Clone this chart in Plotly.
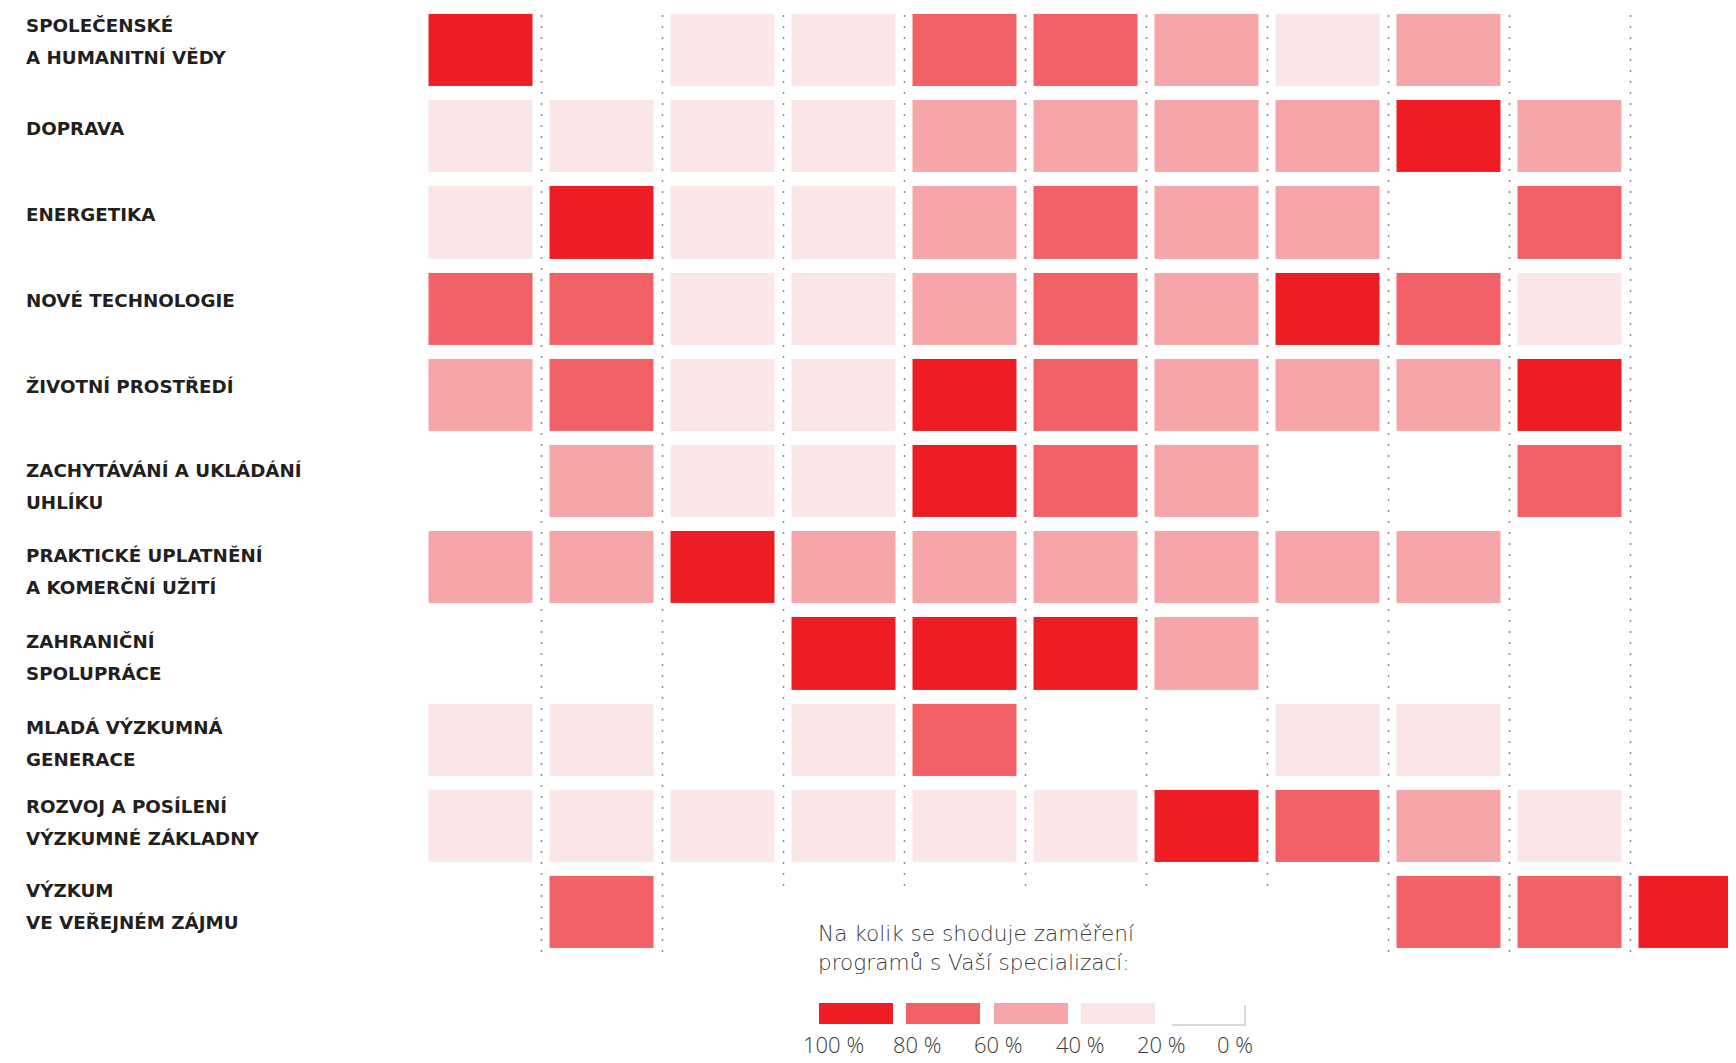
import plotly.graph_objects as go

# ---------------- data ----------------
row_labels = [
    ["SPOLEČENSKÉ", "A HUMANITNÍ VĚDY"],
    ["DOPRAVA"],
    ["ENERGETIKA"],
    ["NOVÉ TECHNOLOGIE"],
    ["ŽIVOTNÍ PROSTŘEDÍ"],
    ["ZACHYTÁVÁNÍ A UKLÁDÁNÍ", "UHLÍKU"],
    ["PRAKTICKÉ UPLATNĚNÍ", "A KOMERČNÍ UŽITÍ"],
    ["ZAHRANIČNÍ", "SPOLUPRÁCE"],
    ["MLADÁ VÝZKUMNÁ", "GENERACE"],
    ["ROZVOJ A POSÍLENÍ", "VÝZKUMNÉ ZÁKLADNY"],
    ["VÝZKUM", "VE VEŘEJNÉM ZÁJMU"],
]
programs = list(range(1, 12))  # 11 programme columns

# match in % (0 = no match)
shoda = [
    [100, 0, 40, 40, 80, 80, 60, 40, 60, 0, 0],
    [40, 40, 40, 40, 60, 60, 60, 60, 100, 60, 0],
    [40, 100, 40, 40, 60, 80, 60, 60, 0, 80, 0],
    [80, 80, 40, 40, 60, 80, 60, 100, 80, 40, 0],
    [60, 80, 40, 40, 100, 80, 60, 60, 60, 100, 0],
    [0, 60, 40, 40, 100, 80, 60, 0, 0, 80, 0],
    [60, 60, 100, 60, 60, 60, 60, 60, 60, 0, 0],
    [0, 0, 0, 100, 100, 100, 60, 0, 0, 0, 0],
    [40, 40, 0, 40, 80, 0, 0, 40, 40, 0, 0],
    [40, 40, 40, 40, 40, 40, 100, 80, 60, 40, 0],
    [0, 80, 0, 0, 0, 0, 0, 0, 80, 80, 100],
]

legend_title = ["Na kolik se shoduje zaměření", "programů s Vaší specializací:"]
legend_levels = [100, 80, 60, 40, 0]
legend_ticks = ["100 %", "80 %", "60 %", "40 %", "20 %", "0 %"]

level_colors = {100: "#EE1D23", 80: "#F26166", 60: "#F6A6A8", 40: "#FBE6E7", 0: "#FFFFFF"}

# ---------------- geometry helpers (screen pixels -> coords) ----------------
OFF = 8                      # page body margin
W, H = 1760, 1055            # figure size (last column runs off the right edge)
X0, DX = 481, 121            # screen x of first column centre, column pitch
Y0, DY = 50, 86.2            # screen y of first row centre, row pitch


def xd(px):
    return (px - X0) / DX


def yd(py):
    return (py - Y0) / DY


def xp(px):
    return (px - OFF) / W


def yp(py):
    return 1 - (py - OFF) / H


n_rows = len(row_labels)
n_cols = len(programs)
z = [[(v if v > 0 else None) for v in row] for row in shoda]

colorscale = [
    [0.0, level_colors[40]], [0.25, level_colors[40]],
    [0.25, level_colors[60]], [0.5, level_colors[60]],
    [0.5, level_colors[80]], [0.75, level_colors[80]],
    [0.75, level_colors[100]], [1.0, level_colors[100]],
]

fig = go.Figure()
fig.add_trace(go.Heatmap(
    z=z,
    x=list(range(n_cols)),
    y=list(range(n_rows)),
    zmin=30, zmax=110,
    colorscale=colorscale,
    showscale=False,
    xgap=17, ygap=14,
    hoverinfo="skip",
))

shapes = []
# dotted separators between columns
sep_bottoms = [956, 956, 891, 891, 891, 891, 891, 958, 958, 958]
for k in range(n_cols - 1):
    shapes.append(dict(
        type="line", xref="x", yref="y",
        x0=k + 0.5, x1=k + 0.5, y0=yd(4), y1=yd(sep_bottoms[k]),
        line=dict(color="#8a8a8a", width=1.5, dash="2px,9px"),
        layer="below",
    ))

annotations = []
label_font = dict(family="DejaVu Sans, sans-serif", size=18.3, color="#231F20", weight=700)
first_offsets = [-24.5, -8, -8, -8, -8, -10.5, -12, -12, -12, -19, -22]
for i, lines in enumerate(row_labels):
    for li, t in enumerate(lines):
        annotations.append(dict(
            text=t, x=xp(24), xref="paper", xanchor="left",
            y=i, yref="y", yanchor="middle",
            yshift=-(first_offsets[i] + 32 * li),
            showarrow=False, font=label_font, align="left",
        ))

# legend title
leg_font = dict(family="DejaVu Sans, sans-serif", size=21.6, color="#3a3a3a", weight=200)
for li, t in enumerate(legend_title):
    annotations.append(dict(
        text=t, x=xp(816), xref="paper", xanchor="left",
        y=yp(933 + 29 * li), yref="paper", yanchor="middle",
        showarrow=False, font=leg_font,
    ))

# legend swatches
sw_x = [819, 906, 994, 1081, 1170]
sw_w = 74
sw_top, sw_bot = 1003, 1024
for lev, x0 in zip(legend_levels, sw_x):
    if lev == 0:
        shapes.append(dict(type="rect", xref="paper", yref="paper",
                           x0=xp(x0 + 2), x1=xp(x0 + sw_w + 2), y0=yp(sw_top + 2), y1=yp(sw_bot + 2),
                           fillcolor="#d8d8d8", line=dict(width=0)))
    shapes.append(dict(type="rect", xref="paper", yref="paper",
                       x0=xp(x0), x1=xp(x0 + sw_w), y0=yp(sw_top), y1=yp(sw_bot),
                       fillcolor=level_colors[lev], line=dict(width=0)))

tick_x = [833, 917, 998, 1080, 1161, 1235]
tick_font = dict(family="Open Sans, sans-serif", size=22, color="#3a3a3a", weight=300)
for t, x in zip(legend_ticks, tick_x):
    annotations.append(dict(
        text=t, x=xp(x), xref="paper", xanchor="center",
        y=yp(1044), yref="paper", yanchor="middle",
        showarrow=False, font=tick_font,
    ))

fig.update_layout(
    width=W, height=H,
    margin=dict(l=0, r=0, t=0, b=0),
    paper_bgcolor="white", plot_bgcolor="white",
    xaxis=dict(range=[xd(OFF), xd(OFF + W)], visible=False, fixedrange=True),
    yaxis=dict(range=[yd(OFF + H), yd(OFF)], visible=False, fixedrange=True),
    shapes=shapes,
    annotations=annotations,
    showlegend=False,
)

fig.write_html("out.html")
